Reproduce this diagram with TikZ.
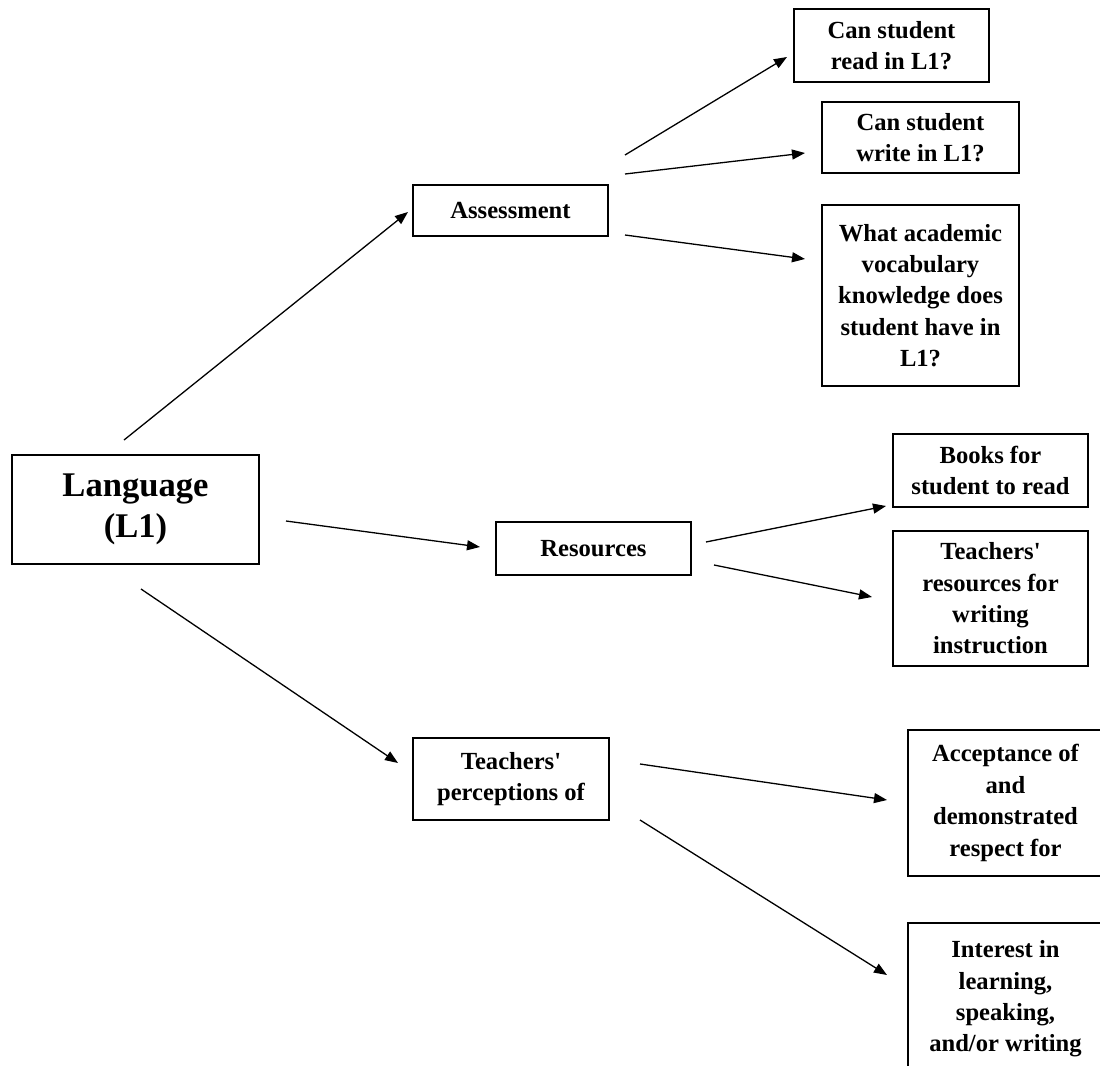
\documentclass[tikz,border=0pt]{standalone}
\usepackage{fontspec}
\setmainfont{Liberation Serif}
\usetikzlibrary{arrows.meta}

\begin{document}
\begin{tikzpicture}[x=0.5pt,y=-0.5pt,
  box/.style={draw,line width=0.8pt,align=center,inner sep=0pt,
    font=\bfseries\fontsize{12.3}{15.7}\selectfont},
  link/.style={-{Triangle[length=6.5pt,width=5pt]},line width=0.65pt}]
  \useasboundingbox (0,0) rectangle (1100,1066);
  \clip (0,0) rectangle (1100,1066);

  % main topic and the three branches
  \node[box,minimum width=123.5pt,minimum height=54.5pt,
    font=\bfseries\fontsize{17.3}{20.5}\selectfont] (lang) at (135.5,509.5) {Language\\(L1)};
  \node[box,minimum width=97.5pt,minimum height=25.5pt] (assess) at (510.5,210.5) {Assessment};
  \node[box,minimum width=97.5pt,minimum height=26.5pt] (res) at (593.5,548.5) {Resources};
  \node[box,minimum width=98pt,minimum height=41pt] (percep) at (511,779) {Teachers\textquotesingle\\perceptions of};

  % leaves
  \node[box,minimum width=97.5pt,minimum height=36.5pt] (read) at (891.5,45.5) {Can student\\read in L1?};
  \node[box,minimum width=98.5pt,minimum height=35.5pt] (write) at (920.5,137.5) {Can student\\write in L1?};
  \node[box,minimum width=98.5pt,minimum height=90.5pt] (vocab) at (920.5,295.5)
    {What academic\\vocabulary\\knowledge does\\student have in\\L1?};
  \node[box,minimum width=97.5pt,minimum height=36.5pt] (books) at (990.5,470.5) {Books for\\student to read};
  \node[box,minimum width=97.5pt,minimum height=67.5pt] (tres) at (990.5,598.5)
    {Teachers\textquotesingle\\resources for\\writing\\instruction};
  \node[box,minimum width=97.5pt,minimum height=73pt] (accept) at (1005.5,803)
    {Acceptance of\\and\\demonstrated\\respect for};
  \node[box,minimum width=97.5pt,minimum height=76pt] (interest) at (1005.5,999)
    {Interest in\\learning,\\speaking,\\and/or writing};

  % arrow ends (the arrows stop short of the boxes)
  \coordinate (langA) at (124,440);   \coordinate (assessIn) at (408,212);
  \coordinate (langR) at (286,521);   \coordinate (resIn) at (480,547);
  \coordinate (langP) at (141,589);   \coordinate (percepIn) at (398,763);
  \coordinate (assess1) at (625,155); \coordinate (readIn) at (787,57);
  \coordinate (assess2) at (625,174); \coordinate (writeIn) at (805,153);
  \coordinate (assess3) at (625,235); \coordinate (vocabIn) at (805,259);
  \coordinate (res1) at (706,542);    \coordinate (booksIn) at (886,506);
  \coordinate (res2) at (714,565);    \coordinate (tresIn) at (872,597);
  \coordinate (percep1) at (640,764); \coordinate (acceptIn) at (887,800);
  \coordinate (percep2) at (640,820); \coordinate (interestIn) at (887,975);

  \path[link]
    (langA) edge (assessIn)
    (langR) edge (resIn)
    (langP) edge (percepIn);

  \path[link]
    (assess1) edge (readIn)
    (assess2) edge (writeIn)
    (assess3) edge (vocabIn)
    (res1) edge (booksIn)
    (res2) edge (tresIn)
    (percep1) edge (acceptIn)
    (percep2) edge (interestIn);
\end{tikzpicture}
\end{document}
